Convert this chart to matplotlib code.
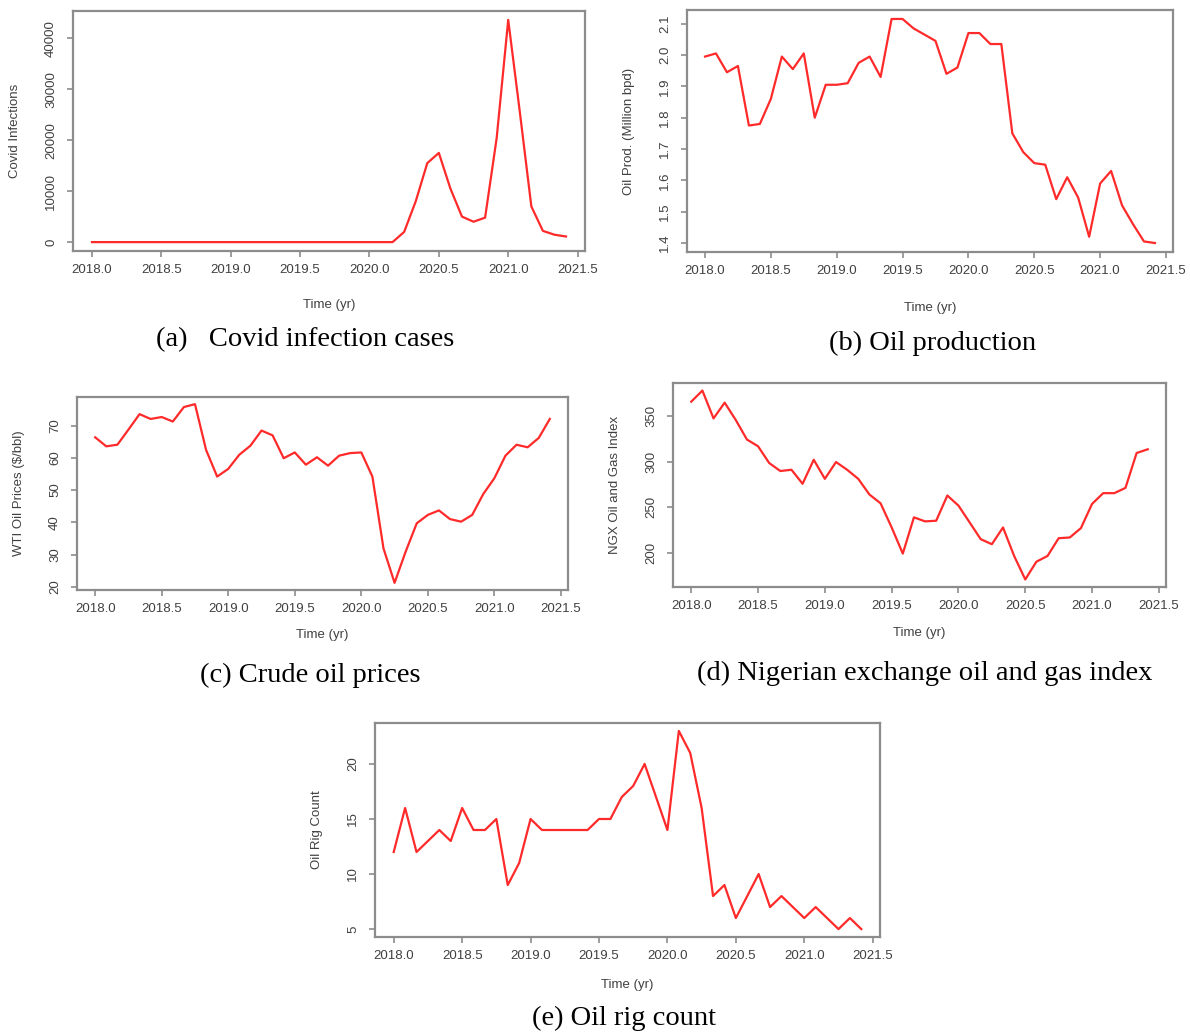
import numpy as np
import matplotlib
matplotlib.use("Agg")
from matplotlib import pyplot as plt

# monthly series, Jan 2018 .. Jun 2021
t = 2018 + np.arange(42) / 12.0

covid = [0, 0, 0, 0, 0, 0, 0, 0, 0, 0, 0, 0,
         0, 0, 0, 0, 0, 0, 0, 0, 0, 0, 0, 0,
         0, 0, 0, 2000, 8000, 15500, 17500, 10500, 5000, 4000, 4800, 20400,
         43600, 25600, 7000, 2200, 1450, 1100]

oil_prod = [1.995, 2.005, 1.945, 1.965, 1.775, 1.78, 1.86, 1.995, 1.955, 2.005, 1.80, 1.905,
            1.905, 1.91, 1.975, 1.995, 1.93, 2.115, 2.115, 2.085, 2.065, 2.045, 1.94, 1.96,
            2.07, 2.07, 2.035, 2.035, 1.75, 1.69, 1.655, 1.65, 1.54, 1.61, 1.545, 1.42,
            1.59, 1.63, 1.52, 1.46, 1.405, 1.40]

wti = [66.4, 63.6, 64.1, 68.8, 73.6, 72.1, 72.7, 71.3, 75.8, 76.7, 62.5, 54.2,
       56.6, 61.0, 63.8, 68.5, 67.0, 59.9, 61.7, 57.9, 60.2, 57.6, 60.7, 61.5,
       61.7, 54.2, 31.9, 21.2, 30.9, 39.7, 42.3, 43.7, 41.0, 40.2, 42.3, 48.8,
       53.7, 60.7, 64.1, 63.3, 66.2, 72.1]

ngx = [365.8, 378, 347.4, 364.7, 345.6, 324.2, 316.8, 298.4, 289.6, 291, 275.6, 302,
       281, 299.5, 291, 281, 263.8, 254.2, 227.6, 198.9, 238.7, 234.3, 235, 262.7,
       251.6, 233.2, 214.7, 209.2, 227.6, 196.3, 170.5, 190, 196.3, 215.8, 216.6, 226.9,
       253.5, 265.3, 265.3, 271.1, 309.4, 313.5]

rigs = [12, 16, 12, 13, 14, 13, 16, 14, 14, 15, 9, 11,
        15, 14, 14, 14, 14, 14, 15, 15, 17, 18, 20, 17,
        14, 23, 21, 16, 8, 9, 6, 8, 10, 7, 8, 7,
        6, 7, 6, 5, 6, 5]

xticks = [2018.0, 2018.5, 2019.0, 2019.5, 2020.0, 2020.5, 2021.0, 2021.5]

W, H = 1190, 1034
fig = plt.figure(figsize=(W / 100, H / 100), dpi=100)
fig.patch.set_facecolor("white")
plt.rcParams["font.family"] = ["Liberation Sans", "DejaVu Sans"]

gray = "#8c8c8c"
txt = "#404040"


def panel(box, y, yticks, ylabel, xlab_off, caption, cap_xy):
    l, t0, r, b = box
    ax = fig.add_axes([l / W, 1 - b / H, (r - l) / W, (b - t0) / H])
    ax.plot(t, y, color="#ff2a2a", lw=1.6)
    ax.margins(x=0.04, y=0.04)
    ax.set_xticks(xticks)
    ax.set_xticklabels(["%.1f" % v for v in xticks])
    ax.set_yticks(yticks)
    ax.set_yticklabels([str(v) for v in yticks], rotation=90, va="center")
    for s in ax.spines.values():
        s.set_color(gray)
        s.set_linewidth(1.6)
    ax.tick_params(direction="out", length=4.5, width=1.2, color=gray,
                   labelsize=9.5, labelcolor=txt)
    ax.tick_params(axis="x", pad=5)
    ax.tick_params(axis="y", pad=7)
    ax.set_xlabel("Time (yr)", fontsize=9.5, color=txt, va="center")
    ax.xaxis.set_label_coords(0.5, -xlab_off / (b - t0))
    ax.set_ylabel(ylabel, fontsize=9.5, color=txt, va="center")
    ax.yaxis.set_label_coords(-58 / (r - l), 0.5)
    fig.text(cap_xy[0] / W, 1 - cap_xy[1] / H, caption, ha="center", va="center",
             fontsize=20.5, family="Liberation Serif")
    return ax


panel((73, 11, 585, 251), covid, [0, 10000, 20000, 30000, 40000],
      "Covid Infections", 54, "(a)   Covid infection cases", (305, 340))
panel((687, 10, 1173, 252), oil_prod, [1.4, 1.5, 1.6, 1.7, 1.8, 1.9, 2.0, 2.1],
      "Oil Prod. (Million bpd)", 56, "(b) Oil production", (933, 343))
panel((77, 397, 568, 590), wti, [20, 30, 40, 50, 60, 70],
      r"WTI Oil Prices (\$/bbl)", 45, "(c) Crude oil prices", (310, 675))
panel((673, 383, 1166, 587), ngx, [200, 250, 300, 350],
      "NGX Oil and Gas Index", 46, "(d) Nigerian exchange oil and gas index", (925, 673))
panel((375, 723, 880, 937), rigs, [5, 10, 15, 20],
      "Oil Rig Count", 48, "(e) Oil rig count", (624, 1018))

plt.savefig("out.png", dpi=100, facecolor="white")
